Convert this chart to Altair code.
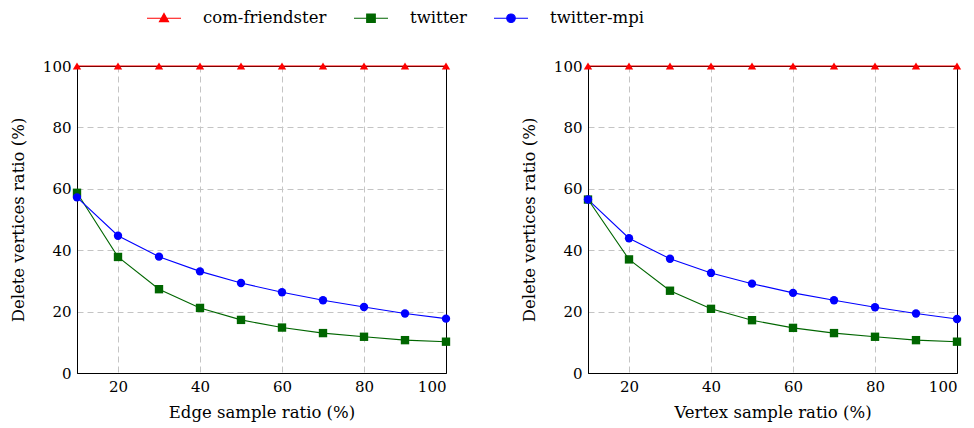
import altair as alt
import pandas as pd

# Sample ratios (%) on the x axis
ratios = [10, 20, 30, 40, 50, 60, 70, 80, 90, 100]
series_names = ["com-friendster", "twitter", "twitter-mpi"]
series_colors = ["#ff0000", "#006600", "#0000ff"]
series_shapes = ["triangle-up", "square", "circle"]

# Delete vertices ratio (%) for edge sampling
edge_friendster = [100, 100, 100, 100, 100, 100, 100, 100, 100, 100]
edge_twitter = [58.7, 37.8, 27.3, 21.2, 17.3, 14.8, 13.0, 11.8, 10.7, 10.2]
edge_twitter_mpi = [57.2, 44.7, 37.9, 33.1, 29.3, 26.3, 23.7, 21.5, 19.4, 17.7]

# Delete vertices ratio (%) for vertex sampling
vertex_friendster = [100, 100, 100, 100, 100, 100, 100, 100, 100, 100]
vertex_twitter = [56.5, 37.0, 26.8, 20.9, 17.2, 14.7, 13.0, 11.8, 10.7, 10.2]
vertex_twitter_mpi = [56.5, 43.9, 37.2, 32.6, 29.1, 26.1, 23.7, 21.4, 19.4, 17.6]

x_ticks = [20, 40, 60, 80, 100]
y_ticks = [0, 20, 40, 60, 80, 100]

# Legend symbols: a short line with the marker on it (unit = half symbol width)
legend_paths = [
    "M-1,0H1M0,-0.28L0.265,0.2L-0.265,0.2Z",
    "M-1,0H1M-0.25,-0.25H0.25V0.25H-0.25Z",
    "M-1,0H1M0.25,0A0.25,0.25,0,1,1,-0.25,0A0.25,0.25,0,1,1,0.25,0Z",
]

FONT = "DejaVu Serif"


def frame(series_lists):
    rows = []
    for name, values in zip(series_names, series_lists):
        for r, v in zip(ratios, values):
            rows.append({"ratio": r, "value": v, "series": name})
    return pd.DataFrame(rows)


# hide grid lines that would sit on the frame
x_grid_opacity = {"condition": {"test": "datum.value >= 100", "value": 0}, "value": 1}
y_grid_opacity = {"condition": {"test": "datum.value <= 0 || datum.value >= 100", "value": 0}, "value": 1}


def panel(df, x_title, with_legend):
    base = alt.Chart(df)
    x = alt.X("ratio:Q", scale=alt.Scale(domain=[10, 100], nice=False, zero=False),
              axis=alt.Axis(values=x_ticks, title=x_title, gridOpacity=x_grid_opacity))
    y = alt.Y("value:Q", scale=alt.Scale(domain=[0, 100], nice=False),
              axis=alt.Axis(values=y_ticks, title="Delete vertices ratio (%)",
                            gridOpacity=y_grid_opacity))
    layers = []
    for name, col in zip(series_names, series_colors):
        layers.append(
            base.transform_filter(alt.datum.series == name)
            .mark_line(strokeWidth=1.1, color=col)
            .encode(x=x, y=y)
        )
    for name, col, shp in zip(series_names, series_colors, series_shapes):
        layers.append(
            base.transform_filter(alt.datum.series == name)
            .mark_point(filled=True, opacity=1, shape=shp, size=70, color=col)
            .encode(x=x, y=y)
        )
    if with_legend:
        series_scale = alt.Scale(domain=series_names, range=series_colors)
        layers.append(
            base.transform_filter(alt.datum.ratio < 0)
            .mark_point(filled=True, opacity=1)
            .encode(
                x=x, y=y,
                color=alt.Color("series:N", scale=series_scale, legend=alt.Legend(title=None)),
                stroke=alt.Stroke("series:N", scale=series_scale, legend=alt.Legend(title=None)),
                shape=alt.Shape("series:N",
                                scale=alt.Scale(domain=series_names, range=legend_paths),
                                legend=alt.Legend(title=None)),
            )
        )
    return alt.layer(*layers).properties(width=369, height=307)


left = panel(frame([edge_friendster, edge_twitter, edge_twitter_mpi]),
             "Edge sample ratio (%)", True)
right = panel(frame([vertex_friendster, vertex_twitter, vertex_twitter_mpi]),
              "Vertex sample ratio (%)", False)

chart = (
    alt.hconcat(left, right, spacing=69)
    .properties(padding={"left": 9, "top": 0, "right": 5, "bottom": 5})
    .configure_view(stroke="black", strokeWidth=1)
    .configure_axis(
        labelFont=FONT, titleFont=FONT, labelFontSize=15, titleFontSize=16.5,
        labelColor="black", titleColor="black", titleFontWeight="normal",
        domainColor="black", domainWidth=1,
        grid=True, gridColor="#c4c4c4", gridDash=[6, 4], gridWidth=1,
        ticks=False, labelPadding=6,
    )
    .configure_axisX(titlePadding=10)
    .configure_axisY(titlePadding=16)
    .configure_legend(
        orient="none", legendX=69, legendY=-66, direction="horizontal",
        labelFont=FONT, labelFontSize=16.5, labelColor="black",
        symbolSize=1156, symbolStrokeWidth=1.2, labelOffset=21, columnPadding=24,
    )
)

chart.save("out.html", embed_options={"renderer": "svg", "actions": False})
